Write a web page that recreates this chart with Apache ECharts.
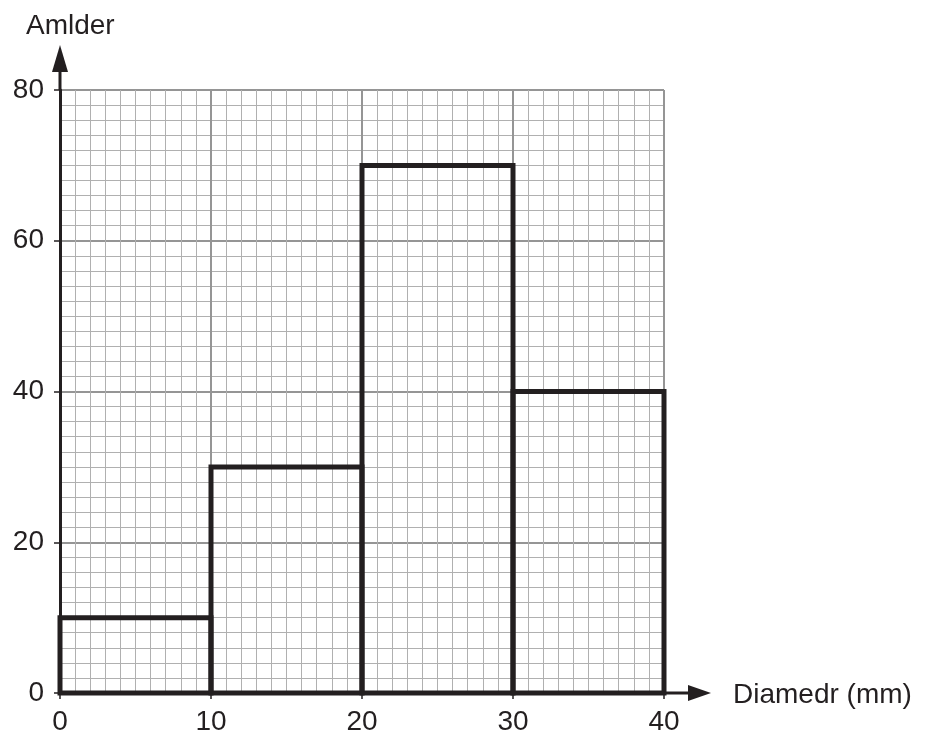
<!DOCTYPE html>
<html>
<head>
<meta charset="utf-8">
<script src="https://cdn.jsdelivr.net/npm/echarts@6/dist/echarts.min.js"></script>
<style>
html,body{margin:0;padding:0;background:#fff;}
#chart{width:925px;height:736px;}
</style>
</head>
<body>
<div id="chart"></div>
<script>
var binStarts = [0, 10, 20, 30];
var binEnds = [10, 20, 30, 40];
var counts = [10, 30, 70, 40];
var xTicks = [0, 10, 20, 30, 40];
var yTicks = [0, 20, 40, 60, 80];
var xTitle = 'Diamedr (mm)';
var yTitle = 'Amlder';

var ink = '#231f20';
var font = 'Liberation Sans, Arial, sans-serif';
var fs = 28;

var data = binStarts.map(function (s, i) { return [s, binEnds[i], counts[i]]; });

var chart = echarts.init(document.getElementById('chart'));
chart.setOption({
  animation: false,
  backgroundColor: '#fff',
  grid: { left: 60, right: 261, top: 90, bottom: 43, containLabel: false },
  xAxis: {
    type: 'value', min: xTicks[0], max: xTicks[xTicks.length - 1], interval: 10,
    axisLine: { show: true, onZero: false, lineStyle: { color: ink, width: 3 } },
    axisTick: { show: true, length: 6, inside: false, lineStyle: { color: ink, width: 1.5 } },
    axisLabel: { color: ink, fontSize: fs, fontFamily: font, margin: 15 },
    splitLine: { show: true, lineStyle: { color: '#959595', width: 2 } },
    minorTick: { show: false, splitNumber: 10 },
    minorSplitLine: { show: true, lineStyle: { color: '#b0b0b0', width: 1 } }
  },
  yAxis: {
    type: 'value', min: yTicks[0], max: yTicks[yTicks.length - 1], interval: 20,
    axisLine: { show: true, onZero: false, lineStyle: { color: ink, width: 3 } },
    axisTick: { show: true, length: 6, inside: false, lineStyle: { color: ink, width: 1.5 } },
    axisLabel: { color: ink, fontSize: fs, fontFamily: font, margin: 16 },
    splitLine: { show: true, lineStyle: { color: '#959595', width: 2 } },
    minorTick: { show: false, splitNumber: 10 },
    minorSplitLine: { show: true, lineStyle: { color: '#b0b0b0', width: 1 } }
  },
  series: [{
    type: 'custom',
    data: data,
    encode: { x: [0, 1], y: 2 },
    renderItem: function (params, api) {
      var p0 = api.coord([api.value(0), api.value(2)]);
      var p1 = api.coord([api.value(1), 0]);
      return {
        type: 'rect',
        shape: { x: p0[0], y: p0[1], width: p1[0] - p0[0], height: p1[1] - p0[1] },
        style: { fill: 'none', stroke: ink, lineWidth: 5 }
      };
    },
    z: 5
  }]
});

var o = chart.convertToPixel({ gridIndex: 0 }, [0, 0]);
var xe = chart.convertToPixel({ gridIndex: 0 }, [40, 0]);
var ye = chart.convertToPixel({ gridIndex: 0 }, [0, 80]);
chart.setOption({
  graphic: [
    { type: 'line', shape: { x1: xe[0], y1: o[1], x2: xe[0] + 30, y2: o[1] }, style: { stroke: ink, lineWidth: 3 }, z: 10 },
    { type: 'polygon', shape: { points: [[xe[0] + 24, o[1] - 8], [xe[0] + 47, o[1]], [xe[0] + 24, o[1] + 8]] }, style: { fill: ink }, z: 10 },
    { type: 'line', shape: { x1: o[0], y1: ye[1], x2: o[0], y2: ye[1] - 22 }, style: { stroke: ink, lineWidth: 3 }, z: 10 },
    { type: 'polygon', shape: { points: [[o[0] - 8, ye[1] - 18], [o[0], ye[1] - 45], [o[0] + 8, ye[1] - 18]] }, style: { fill: ink }, z: 10 },
    { type: 'text', left: 26, top: 12, style: { text: yTitle, font: fs + 'px ' + font, fill: ink }, z: 10 },
    { type: 'text', left: xe[0] + 69, top: o[1] - 12, style: { text: xTitle, font: fs + 'px ' + font, fill: ink }, z: 10 }
  ]
});
</script>
</body>
</html>
